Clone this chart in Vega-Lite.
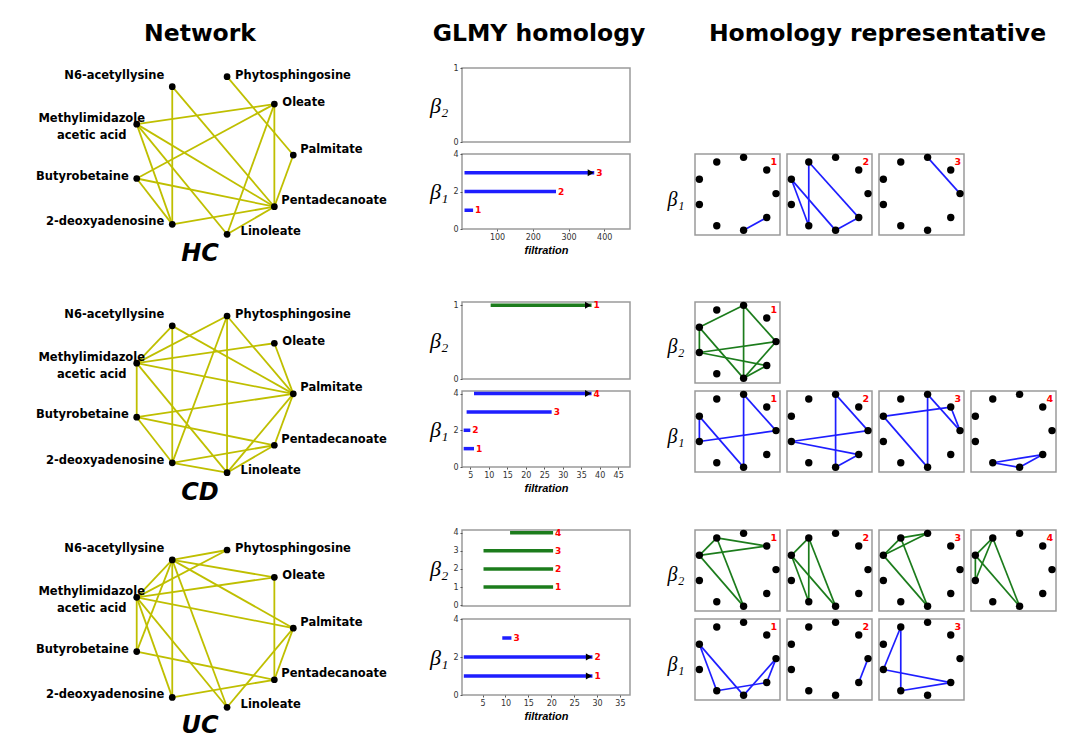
{
"$schema": "https://vega.github.io/schema/vega-lite/v6.json",
"padding": 0,
"background": "white",
"config": {
  "view": {"stroke": null},
  "axis": {"grid": false, "labelFont": "DejaVu Sans", "labelFontSize": 8, "labelColor": "#333", "tickSize": 2, "tickColor": "#555", "domainColor": "#666", "labelPadding": 2, "format": "d"},
  "title": {"font": "DejaVu Sans", "fontSize": 23.5, "fontWeight": "bold", "anchor": "middle", "frame": "group", "baseline": "alphabetic", "color": "black", "offset": -45}
},
"datasets": {
  "nodes": [
    {"id": "N6", "label": "N6-acetyllysine", "x": 0.227, "y": 0.937},
    {"id": "Phy", "label": "Phytosphingosine", "x": 0.577, "y": 1.0},
    {"id": "Ole", "label": "Oleate", "x": 0.879, "y": 0.826},
    {"id": "Pal", "label": "Palmitate", "x": 1.0, "y": 0.503},
    {"id": "Pen", "label": "Pentadecanoate", "x": 0.879, "y": 0.175},
    {"id": "Lin", "label": "Linoleate", "x": 0.577, "y": 0.0},
    {"id": "Deo", "label": "2-deoxyadenosine", "x": 0.227, "y": 0.063},
    {"id": "But", "label": "Butyrobetaine", "x": 0.0, "y": 0.354},
    {"id": "Met", "label": "Methylimidazole\nacetic acid", "x": 0.0, "y": 0.699}
  ],
  "edges": [
    {"g": "HCnet", "s": "N6", "t": "Deo"}, {"g": "HCnet", "s": "N6", "t": "Pen"}, {"g": "HCnet", "s": "Phy", "t": "Pal"},
    {"g": "HCnet", "s": "Ole", "t": "Met"}, {"g": "HCnet", "s": "Ole", "t": "But"}, {"g": "HCnet", "s": "Ole", "t": "Lin"},
    {"g": "HCnet", "s": "Ole", "t": "Pen"}, {"g": "HCnet", "s": "Pal", "t": "Pen"}, {"g": "HCnet", "s": "Met", "t": "Deo"},
    {"g": "HCnet", "s": "Met", "t": "Lin"}, {"g": "HCnet", "s": "Met", "t": "Pen"}, {"g": "HCnet", "s": "But", "t": "Deo"},
    {"g": "HCnet", "s": "But", "t": "Pen"}, {"g": "HCnet", "s": "Deo", "t": "Pen"}, {"g": "HCnet", "s": "Lin", "t": "Pen"},
    {"g": "CDnet", "s": "N6", "t": "Deo"}, {"g": "CDnet", "s": "N6", "t": "Pal"}, {"g": "CDnet", "s": "N6", "t": "Met"},
    {"g": "CDnet", "s": "Phy", "t": "Met"}, {"g": "CDnet", "s": "Phy", "t": "Deo"}, {"g": "CDnet", "s": "Phy", "t": "Lin"},
    {"g": "CDnet", "s": "Phy", "t": "Pal"}, {"g": "CDnet", "s": "Ole", "t": "Pal"}, {"g": "CDnet", "s": "Ole", "t": "Met"},
    {"g": "CDnet", "s": "Met", "t": "Pal"}, {"g": "CDnet", "s": "Met", "t": "But"}, {"g": "CDnet", "s": "Met", "t": "Lin"},
    {"g": "CDnet", "s": "But", "t": "Pal"}, {"g": "CDnet", "s": "But", "t": "Pen"}, {"g": "CDnet", "s": "But", "t": "Deo"},
    {"g": "CDnet", "s": "Deo", "t": "Pen"}, {"g": "CDnet", "s": "Deo", "t": "Lin"}, {"g": "CDnet", "s": "Lin", "t": "Pal"},
    {"g": "CDnet", "s": "Lin", "t": "Pen"}, {"g": "CDnet", "s": "Pen", "t": "Pal"},
    {"g": "UCnet", "s": "N6", "t": "Phy"}, {"g": "UCnet", "s": "N6", "t": "Ole"}, {"g": "UCnet", "s": "N6", "t": "Pal"},
    {"g": "UCnet", "s": "N6", "t": "Deo"}, {"g": "UCnet", "s": "N6", "t": "Lin"}, {"g": "UCnet", "s": "N6", "t": "Met"},
    {"g": "UCnet", "s": "N6", "t": "But"}, {"g": "UCnet", "s": "Met", "t": "Phy"}, {"g": "UCnet", "s": "Met", "t": "Ole"},
    {"g": "UCnet", "s": "Met", "t": "Pal"}, {"g": "UCnet", "s": "Met", "t": "But"}, {"g": "UCnet", "s": "Met", "t": "Deo"},
    {"g": "UCnet", "s": "Met", "t": "Lin"}, {"g": "UCnet", "s": "Ole", "t": "Pen"}, {"g": "UCnet", "s": "Pal", "t": "Pen"},
    {"g": "UCnet", "s": "Pal", "t": "Lin"}, {"g": "UCnet", "s": "But", "t": "Pen"}, {"g": "UCnet", "s": "Deo", "t": "Pen"},
    {"g": "HCb1_1", "s": "Lin", "t": "Pen"},
    {"g": "HCb1_2", "s": "N6", "t": "Deo"}, {"g": "HCb1_2", "s": "N6", "t": "Pen"}, {"g": "HCb1_2", "s": "Met", "t": "Deo"},
    {"g": "HCb1_2", "s": "Met", "t": "Lin"}, {"g": "HCb1_2", "s": "Lin", "t": "Pen"},
    {"g": "HCb1_3", "s": "Phy", "t": "Pal"},
    {"g": "CDb2_1", "s": "Phy", "t": "Met"}, {"g": "CDb2_1", "s": "Phy", "t": "Lin"}, {"g": "CDb2_1", "s": "Phy", "t": "Pal"},
    {"g": "CDb2_1", "s": "Met", "t": "But"}, {"g": "CDb2_1", "s": "Met", "t": "Lin"}, {"g": "CDb2_1", "s": "But", "t": "Pal"},
    {"g": "CDb2_1", "s": "But", "t": "Pen"}, {"g": "CDb2_1", "s": "Lin", "t": "Pen"}, {"g": "CDb2_1", "s": "Lin", "t": "Pal"},
    {"g": "CDb1_1", "s": "Phy", "t": "Lin"}, {"g": "CDb1_1", "s": "Phy", "t": "Pal"}, {"g": "CDb1_1", "s": "Met", "t": "But"},
    {"g": "CDb1_1", "s": "Met", "t": "Lin"}, {"g": "CDb1_1", "s": "But", "t": "Pal"},
    {"g": "CDb1_2", "s": "Phy", "t": "Lin"}, {"g": "CDb1_2", "s": "Phy", "t": "Pal"}, {"g": "CDb1_2", "s": "But", "t": "Pal"},
    {"g": "CDb1_2", "s": "But", "t": "Pen"}, {"g": "CDb1_2", "s": "Lin", "t": "Pen"},
    {"g": "CDb1_3", "s": "Met", "t": "Ole"}, {"g": "CDb1_3", "s": "Phy", "t": "Lin"}, {"g": "CDb1_3", "s": "Phy", "t": "Pal"},
    {"g": "CDb1_3", "s": "Ole", "t": "Pal"}, {"g": "CDb1_3", "s": "Met", "t": "Lin"},
    {"g": "CDb1_4", "s": "Deo", "t": "Pen"}, {"g": "CDb1_4", "s": "Deo", "t": "Lin"}, {"g": "CDb1_4", "s": "Lin", "t": "Pen"},
    {"g": "UCb2_1", "s": "N6", "t": "Ole"}, {"g": "UCb2_1", "s": "Met", "t": "Ole"}, {"g": "UCb2_1", "s": "N6", "t": "Met"},
    {"g": "UCb2_1", "s": "N6", "t": "Lin"}, {"g": "UCb2_1", "s": "Met", "t": "Lin"},
    {"g": "UCb2_2", "s": "N6", "t": "Met"}, {"g": "UCb2_2", "s": "N6", "t": "Deo"}, {"g": "UCb2_2", "s": "N6", "t": "Lin"},
    {"g": "UCb2_2", "s": "Met", "t": "Lin"}, {"g": "UCb2_2", "s": "Met", "t": "Deo"},
    {"g": "UCb2_3", "s": "N6", "t": "Phy"}, {"g": "UCb2_3", "s": "Met", "t": "Phy"}, {"g": "UCb2_3", "s": "N6", "t": "Met"},
    {"g": "UCb2_3", "s": "N6", "t": "Lin"}, {"g": "UCb2_3", "s": "Met", "t": "Lin"},
    {"g": "UCb2_4", "s": "N6", "t": "Met"}, {"g": "UCb2_4", "s": "N6", "t": "But"}, {"g": "UCb2_4", "s": "Met", "t": "But"},
    {"g": "UCb2_4", "s": "N6", "t": "Lin"}, {"g": "UCb2_4", "s": "Met", "t": "Lin"},
    {"g": "UCb1_1", "s": "Met", "t": "Deo"}, {"g": "UCb1_1", "s": "Met", "t": "Lin"}, {"g": "UCb1_1", "s": "Deo", "t": "Pen"},
    {"g": "UCb1_1", "s": "Lin", "t": "Pal"}, {"g": "UCb1_1", "s": "Pal", "t": "Pen"},
    {"g": "UCb1_2", "s": "Pen", "t": "Pal"},
    {"g": "UCb1_3", "s": "N6", "t": "But"}, {"g": "UCb1_3", "s": "N6", "t": "Deo"}, {"g": "UCb1_3", "s": "But", "t": "Pen"},
    {"g": "UCb1_3", "s": "Deo", "t": "Pen"}
  ],
  "bars": [
    {"g": "HC", "dim": 1, "idx": 1, "birth": 9, "death": 33, "inf": false},
    {"g": "HC", "dim": 1, "idx": 2, "birth": 9, "death": 265, "inf": false},
    {"g": "HC", "dim": 1, "idx": 3, "birth": 9, "death": 372, "inf": true},
    {"g": "CD", "dim": 2, "idx": 1, "birth": 10.5, "death": 37.8, "inf": true},
    {"g": "CD", "dim": 1, "idx": 1, "birth": 3.2, "death": 6.0, "inf": false},
    {"g": "CD", "dim": 1, "idx": 2, "birth": 3.2, "death": 5.0, "inf": false},
    {"g": "CD", "dim": 1, "idx": 3, "birth": 4.0, "death": 27.0, "inf": false},
    {"g": "CD", "dim": 1, "idx": 4, "birth": 6.0, "death": 37.8, "inf": true},
    {"g": "UC", "dim": 2, "idx": 1, "birth": 5.2, "death": 20.4, "inf": false},
    {"g": "UC", "dim": 2, "idx": 2, "birth": 5.2, "death": 20.4, "inf": false},
    {"g": "UC", "dim": 2, "idx": 3, "birth": 5.2, "death": 20.4, "inf": false},
    {"g": "UC", "dim": 2, "idx": 4, "birth": 11.0, "death": 20.4, "inf": false},
    {"g": "UC", "dim": 1, "idx": 1, "birth": 0.9, "death": 29.0, "inf": true},
    {"g": "UC", "dim": 1, "idx": 2, "birth": 0.9, "death": 29.0, "inf": true},
    {"g": "UC", "dim": 1, "idx": 3, "birth": 9.3, "death": 11.3, "inf": false}
  ]
},
"data": {"name": "edges"},
"transform": [
  {"lookup": "s", "from": {"data": {"name": "nodes"}, "key": "id", "fields": ["x", "y"]}, "as": ["x", "y"]},
  {"lookup": "t", "from": {"data": {"name": "nodes"}, "key": "id", "fields": ["x", "y"]}, "as": ["xe", "ye"]}
],
"columns": 7,
"align": "none",
"bounds": "flush",
"spacing": {"row": 0, "column": 7},
"concat": [
  {"width": 455, "height": 68, "data": {"values": []}, "mark": "text", "title": {"text": "Network", "dx": -27.5}},
  {"width": 168, "height": 68, "data": {"values": []}, "mark": "text", "title": {"text": "GLMY homology", "dx": -7}},
  {"width": 51, "height": 0, "data": {"values": []}, "mark": "text"},
  {"width": 85, "height": 68, "data": {"values": []}, "mark": "text", "title": {"text": "Homology representative", "dx": 140}},
  {"width": 85, "height": 0, "data": {"values": []}, "mark": "text"},
  {"width": 85, "height": 0, "data": {"values": []}, "mark": "text"},
  {"width": 85, "height": 0, "data": {"values": []}, "mark": "text"},

  {
    "width": 455, "height": 86,
    "title": {"text": "HC", "fontSize": 24, "fontStyle": "italic", "offset": -197.7, "dx": -27.5},
    "encoding": {
      "x": {"field": "x", "type": "quantitative", "scale": {"domain": [-0.873, 2.0326], "nice": false, "zero": false}, "axis": null},
      "y": {"field": "y", "type": "quantitative", "scale": {"domain": [0.5095, 1.0552], "nice": false, "zero": false}, "axis": null}
    },
    "layer": [
      {"transform": [{"filter": "datum.g == 'HCnet'"}], "mark": {"type": "rule", "color": "#bfbf00", "strokeWidth": 1.8}, "encoding": {"x2": {"field": "xe"}, "y2": {"field": "ye"}}},
      {"data": {"name": "nodes"}, "mark": {"type": "circle", "color": "black", "size": 45, "opacity": 1}},
      {"data": {"name": "nodes"}, "transform": [{"filter": "datum.id == 'N6'"}], "mark": {"type": "text", "font": "DejaVu Sans", "fontWeight": "bold", "fontSize": 11.5, "align": "right", "baseline": "middle", "dx": -8, "dy": -11}, "encoding": {"text": {"field": "label"}}},
      {"data": {"name": "nodes"}, "transform": [{"filter": "datum.id == 'Deo' || datum.id == 'But'"}], "mark": {"type": "text", "font": "DejaVu Sans", "fontWeight": "bold", "fontSize": 11.5, "align": "right", "baseline": "middle", "dx": -8, "dy": -2}, "encoding": {"text": {"field": "label"}}},
      {"data": {"name": "nodes"}, "transform": [{"filter": "datum.id == 'Phy' || datum.id == 'Ole'"}], "mark": {"type": "text", "font": "DejaVu Sans", "fontWeight": "bold", "fontSize": 11.5, "align": "left", "baseline": "middle", "dx": 8, "dy": -1}, "encoding": {"text": {"field": "label"}}},
      {"data": {"name": "nodes"}, "transform": [{"filter": "datum.id == 'Pal' || datum.id == 'Pen'"}], "mark": {"type": "text", "font": "DejaVu Sans", "fontWeight": "bold", "fontSize": 11.5, "align": "left", "baseline": "middle", "dx": 7, "dy": -5.5}, "encoding": {"text": {"field": "label"}}},
      {"data": {"name": "nodes"}, "transform": [{"filter": "datum.id == 'Lin'"}], "mark": {"type": "text", "font": "DejaVu Sans", "fontWeight": "bold", "fontSize": 11.5, "align": "left", "baseline": "middle", "dx": 13.5, "dy": -2}, "encoding": {"text": {"field": "label"}}},
      {"data": {"name": "nodes"}, "transform": [{"filter": "datum.id == 'Met'"}], "mark": {"type": "text", "font": "DejaVu Sans", "fontWeight": "bold", "fontSize": 11.5, "align": "center", "baseline": "middle", "dx": -45, "dy": -5, "lineBreak": "\n", "lineHeight": 16.5}, "encoding": {"text": {"field": "label"}}}
    ]
  },
  {
    "width": 168, "height": 74, "view": {"stroke": "#9a9a9a", "strokeWidth": 1.5},
    "data": {"name": "bars"}, "transform": [{"filter": "datum.g == 'HC' && datum.dim == 2"}],
    "encoding": {
      "x": {"field": "birth", "type": "quantitative", "scale": {"domain": [2, 472], "nice": false, "zero": false}, "axis": null},
      "y": {"field": "idx", "type": "quantitative", "scale": {"domain": [0, 1], "nice": false, "zero": false}, "axis": {"values": [0, 1], "domain": false, "title": "β₂", "titleAngle": 0, "titleAlign": "right", "titleBaseline": "middle", "titleX": -14, "titleY": 37, "titleFont": "Liberation Serif", "titleFontSize": 22, "titleFontStyle": "italic", "titleFontWeight": "normal", "titleColor": "black"}}
    },
    "layer": [
      {"mark": {"type": "rule", "color": "#1c7c1c", "strokeWidth": 3.5}, "encoding": {"x2": {"field": "death"}}},
      {"transform": [{"filter": "datum.inf"}], "mark": {"type": "point", "shape": "triangle-right", "filled": true, "color": "black", "opacity": 1, "size": 50, "xOffset": -3.5}, "encoding": {"x": {"field": "death", "type": "quantitative", "axis": null}}},
      {"mark": {"type": "text", "color": "#ff0000", "font": "DejaVu Sans", "fontWeight": "bold", "fontSize": 9, "align": "left", "baseline": "middle", "dx": 2}, "encoding": {"x": {"field": "death", "type": "quantitative", "axis": null}, "text": {"field": "idx"}}}
    ]
  },
  {"width": 51, "height": 0, "data": {"values": []}, "mark": "text"},
  {"width": 85, "height": 0, "data": {"values": []}, "mark": "text"},
  {"width": 85, "height": 0, "data": {"values": []}, "mark": "text"},
  {"width": 85, "height": 0, "data": {"values": []}, "mark": "text"},
  {"width": 85, "height": 0, "data": {"values": []}, "mark": "text"},

  {"width": 455, "height": 148, "data": {"values": []}, "mark": "text"},
  {
    "width": 168, "height": 75, "view": {"stroke": "#9a9a9a", "strokeWidth": 1.5},
    "data": {"name": "bars"}, "transform": [{"filter": "datum.g == 'HC' && datum.dim == 1"}],
    "encoding": {
      "x": {"field": "birth", "type": "quantitative", "scale": {"domain": [2, 472], "nice": false, "zero": false}, "axis": {"values": [100, 200, 300, 400], "domain": false, "title": "filtration", "titleFont": "Liberation Sans", "titleFontSize": 11, "titleFontStyle": "italic", "titleFontWeight": "bold", "titleColor": "black", "titlePadding": 3}},
      "y": {"field": "idx", "type": "quantitative", "scale": {"domain": [0, 4], "nice": false, "zero": false}, "axis": {"values": [0, 2, 4], "domain": false, "title": "β₁", "titleAngle": 0, "titleAlign": "right", "titleBaseline": "middle", "titleX": -14, "titleY": 37, "titleFont": "Liberation Serif", "titleFontSize": 22, "titleFontStyle": "italic", "titleFontWeight": "normal", "titleColor": "black"}}
    },
    "layer": [
      {"mark": {"type": "rule", "color": "#1e1eff", "strokeWidth": 3.5}, "encoding": {"x2": {"field": "death"}}},
      {"transform": [{"filter": "datum.inf"}], "mark": {"type": "point", "shape": "triangle-right", "filled": true, "color": "black", "opacity": 1, "size": 50, "xOffset": -3.5}, "encoding": {"x": {"field": "death", "type": "quantitative", "axis": {"values": [100, 200, 300, 400], "domain": false, "title": "filtration", "titleFont": "Liberation Sans", "titleFontSize": 11, "titleFontStyle": "italic", "titleFontWeight": "bold", "titleColor": "black", "titlePadding": 3}}}},
      {"mark": {"type": "text", "color": "#ff0000", "font": "DejaVu Sans", "fontWeight": "bold", "fontSize": 9, "align": "left", "baseline": "middle", "dx": 2}, "encoding": {"x": {"field": "death", "type": "quantitative", "axis": {"values": [100, 200, 300, 400], "domain": false, "title": "filtration", "titleFont": "Liberation Sans", "titleFontSize": 11, "titleFontStyle": "italic", "titleFontWeight": "bold", "titleColor": "black", "titlePadding": 3}}, "text": {"field": "idx"}}}
    ]
  },
  {"width": 51, "height": 0, "data": {"values": []}, "mark": "text"},
  {"width": 85, "height": 81, "view": {"stroke": "#9a9a9a", "strokeWidth": 1.5},
   "title": {"text": "1", "color": "#ff0000", "fontSize": 9.5, "anchor": "end", "offset": -12.5, "dx": -3},
   "encoding": {"x": {"field": "x", "type": "quantitative", "scale": {"domain": [-0.057, 1.052], "nice": false, "zero": false}, "axis": null}, "y": {"field": "y", "type": "quantitative", "scale": {"domain": [-0.064, 1.046], "nice": false, "zero": false}, "axis": {"title": "β₁", "domain": false, "ticks": false, "labels": false, "grid": false, "titleAngle": 0, "titleAlign": "right", "titleBaseline": "middle", "titleX": -11, "titleY": 45, "titleFont": "Liberation Serif", "titleFontSize": 20, "titleFontStyle": "italic", "titleFontWeight": "normal", "titleColor": "black"}}},
   "layer": [
     {"transform": [{"filter": "datum.g == 'HCb1_1'"}], "mark": {"type": "rule", "color": "#1e1eff", "strokeWidth": 1.7}, "encoding": {"x2": {"field": "xe"}, "y2": {"field": "ye"}}},
     {"data": {"name": "nodes"}, "mark": {"type": "circle", "color": "black", "size": 55, "opacity": 1}}
   ]},
  {"width": 85, "height": 81, "view": {"stroke": "#9a9a9a", "strokeWidth": 1.5},
   "title": {"text": "2", "color": "#ff0000", "fontSize": 9.5, "anchor": "end", "offset": -12.5, "dx": -3},
   "encoding": {"x": {"field": "x", "type": "quantitative", "scale": {"domain": [-0.057, 1.052], "nice": false, "zero": false}, "axis": null}, "y": {"field": "y", "type": "quantitative", "scale": {"domain": [-0.064, 1.046], "nice": false, "zero": false}, "axis": null}},
   "layer": [
     {"transform": [{"filter": "datum.g == 'HCb1_2'"}], "mark": {"type": "rule", "color": "#1e1eff", "strokeWidth": 1.7}, "encoding": {"x2": {"field": "xe"}, "y2": {"field": "ye"}}},
     {"data": {"name": "nodes"}, "mark": {"type": "circle", "color": "black", "size": 55, "opacity": 1}}
   ]},
  {"width": 85, "height": 81, "view": {"stroke": "#9a9a9a", "strokeWidth": 1.5},
   "title": {"text": "3", "color": "#ff0000", "fontSize": 9.5, "anchor": "end", "offset": -12.5, "dx": -3},
   "encoding": {"x": {"field": "x", "type": "quantitative", "scale": {"domain": [-0.057, 1.052], "nice": false, "zero": false}, "axis": null}, "y": {"field": "y", "type": "quantitative", "scale": {"domain": [-0.064, 1.046], "nice": false, "zero": false}, "axis": null}},
   "layer": [
     {"transform": [{"filter": "datum.g == 'HCb1_3'"}], "mark": {"type": "rule", "color": "#1e1eff", "strokeWidth": 1.7}, "encoding": {"x2": {"field": "xe"}, "y2": {"field": "ye"}}},
     {"data": {"name": "nodes"}, "mark": {"type": "circle", "color": "black", "size": 55, "opacity": 1}}
   ]},
  {"width": 85, "height": 0, "data": {"values": []}, "mark": "text"},

  {
    "width": 455, "height": 89,
    "title": {"text": "CD", "fontSize": 24, "fontStyle": "italic", "offset": -202.7, "dx": -27.5},
    "encoding": {
      "x": {"field": "x", "type": "quantitative", "scale": {"domain": [-0.873, 2.0326], "nice": false, "zero": false}, "axis": null},
      "y": {"field": "y", "type": "quantitative", "scale": {"domain": [0.5213, 1.0893], "nice": false, "zero": false}, "axis": null}
    },
    "layer": [
      {"transform": [{"filter": "datum.g == 'CDnet'"}], "mark": {"type": "rule", "color": "#bfbf00", "strokeWidth": 1.8}, "encoding": {"x2": {"field": "xe"}, "y2": {"field": "ye"}}},
      {"data": {"name": "nodes"}, "mark": {"type": "circle", "color": "black", "size": 45, "opacity": 1}},
      {"data": {"name": "nodes"}, "transform": [{"filter": "datum.id == 'N6'"}], "mark": {"type": "text", "font": "DejaVu Sans", "fontWeight": "bold", "fontSize": 11.5, "align": "right", "baseline": "middle", "dx": -8, "dy": -11}, "encoding": {"text": {"field": "label"}}},
      {"data": {"name": "nodes"}, "transform": [{"filter": "datum.id == 'Deo' || datum.id == 'But'"}], "mark": {"type": "text", "font": "DejaVu Sans", "fontWeight": "bold", "fontSize": 11.5, "align": "right", "baseline": "middle", "dx": -8, "dy": -2}, "encoding": {"text": {"field": "label"}}},
      {"data": {"name": "nodes"}, "transform": [{"filter": "datum.id == 'Phy' || datum.id == 'Ole'"}], "mark": {"type": "text", "font": "DejaVu Sans", "fontWeight": "bold", "fontSize": 11.5, "align": "left", "baseline": "middle", "dx": 8, "dy": -1}, "encoding": {"text": {"field": "label"}}},
      {"data": {"name": "nodes"}, "transform": [{"filter": "datum.id == 'Pal' || datum.id == 'Pen'"}], "mark": {"type": "text", "font": "DejaVu Sans", "fontWeight": "bold", "fontSize": 11.5, "align": "left", "baseline": "middle", "dx": 7, "dy": -5.5}, "encoding": {"text": {"field": "label"}}},
      {"data": {"name": "nodes"}, "transform": [{"filter": "datum.id == 'Lin'"}], "mark": {"type": "text", "font": "DejaVu Sans", "fontWeight": "bold", "fontSize": 11.5, "align": "left", "baseline": "middle", "dx": 13.5, "dy": -2}, "encoding": {"text": {"field": "label"}}},
      {"data": {"name": "nodes"}, "transform": [{"filter": "datum.id == 'Met'"}], "mark": {"type": "text", "font": "DejaVu Sans", "fontWeight": "bold", "fontSize": 11.5, "align": "center", "baseline": "middle", "dx": -45, "dy": -5, "lineBreak": "\n", "lineHeight": 16.5}, "encoding": {"text": {"field": "label"}}}
    ]
  },
  {
    "width": 168, "height": 77, "view": {"stroke": "#9a9a9a", "strokeWidth": 1.5},
    "data": {"name": "bars"}, "transform": [{"filter": "datum.g == 'CD' && datum.dim == 2"}],
    "encoding": {
      "x": {"field": "birth", "type": "quantitative", "scale": {"domain": [2.75, 48.2], "nice": false, "zero": false}, "axis": null},
      "y": {"field": "idx", "type": "quantitative", "scale": {"domain": [0, 1.045], "nice": false, "zero": false}, "axis": {"values": [0, 1], "domain": false, "title": "β₂", "titleAngle": 0, "titleAlign": "right", "titleBaseline": "middle", "titleX": -14, "titleY": 38, "titleFont": "Liberation Serif", "titleFontSize": 22, "titleFontStyle": "italic", "titleFontWeight": "normal", "titleColor": "black"}}
    },
    "layer": [
      {"mark": {"type": "rule", "color": "#1c7c1c", "strokeWidth": 3.5}, "encoding": {"x2": {"field": "death"}}},
      {"transform": [{"filter": "datum.inf"}], "mark": {"type": "point", "shape": "triangle-right", "filled": true, "color": "black", "opacity": 1, "size": 50, "xOffset": -3.5}, "encoding": {"x": {"field": "death", "type": "quantitative", "axis": null}}},
      {"mark": {"type": "text", "color": "#ff0000", "font": "DejaVu Sans", "fontWeight": "bold", "fontSize": 9, "align": "left", "baseline": "middle", "dx": 2}, "encoding": {"x": {"field": "death", "type": "quantitative", "axis": null}, "text": {"field": "idx"}}}
    ]
  },
  {"width": 51, "height": 0, "data": {"values": []}, "mark": "text"},
  {"width": 85, "height": 81, "view": {"stroke": "#9a9a9a", "strokeWidth": 1.5},
   "title": {"text": "1", "color": "#ff0000", "fontSize": 9.5, "anchor": "end", "offset": -12.5, "dx": -3},
   "encoding": {"x": {"field": "x", "type": "quantitative", "scale": {"domain": [-0.057, 1.052], "nice": false, "zero": false}, "axis": null}, "y": {"field": "y", "type": "quantitative", "scale": {"domain": [-0.064, 1.046], "nice": false, "zero": false}, "axis": {"title": "β₂", "domain": false, "ticks": false, "labels": false, "grid": false, "titleAngle": 0, "titleAlign": "right", "titleBaseline": "middle", "titleX": -11, "titleY": 44, "titleFont": "Liberation Serif", "titleFontSize": 20, "titleFontStyle": "italic", "titleFontWeight": "normal", "titleColor": "black"}}},
   "layer": [
     {"transform": [{"filter": "datum.g == 'CDb2_1'"}], "mark": {"type": "rule", "color": "#1c7c1c", "strokeWidth": 1.7}, "encoding": {"x2": {"field": "xe"}, "y2": {"field": "ye"}}},
     {"data": {"name": "nodes"}, "mark": {"type": "circle", "color": "black", "size": 55, "opacity": 1}}
   ]},
  {"width": 85, "height": 0, "data": {"values": []}, "mark": "text"},
  {"width": 85, "height": 0, "data": {"values": []}, "mark": "text"},
  {"width": 85, "height": 0, "data": {"values": []}, "mark": "text"},

  {"width": 455, "height": 139, "data": {"values": []}, "mark": "text"},
  {
    "width": 168, "height": 76, "view": {"stroke": "#9a9a9a", "strokeWidth": 1.5},
    "data": {"name": "bars"}, "transform": [{"filter": "datum.g == 'CD' && datum.dim == 1"}],
    "encoding": {
      "x": {"field": "birth", "type": "quantitative", "scale": {"domain": [2.75, 48.2], "nice": false, "zero": false}, "axis": {"values": [5, 10, 15, 20, 25, 30, 35, 40, 45], "domain": false, "title": "filtration", "titleFont": "Liberation Sans", "titleFontSize": 11, "titleFontStyle": "italic", "titleFontWeight": "bold", "titleColor": "black", "titlePadding": 3}},
      "y": {"field": "idx", "type": "quantitative", "scale": {"domain": [0, 4.14], "nice": false, "zero": false}, "axis": {"values": [0, 2, 4], "domain": false, "title": "β₁", "titleAngle": 0, "titleAlign": "right", "titleBaseline": "middle", "titleX": -14, "titleY": 38, "titleFont": "Liberation Serif", "titleFontSize": 22, "titleFontStyle": "italic", "titleFontWeight": "normal", "titleColor": "black"}}
    },
    "layer": [
      {"mark": {"type": "rule", "color": "#1e1eff", "strokeWidth": 3.5}, "encoding": {"x2": {"field": "death"}}},
      {"transform": [{"filter": "datum.inf"}], "mark": {"type": "point", "shape": "triangle-right", "filled": true, "color": "black", "opacity": 1, "size": 50, "xOffset": -3.5}, "encoding": {"x": {"field": "death", "type": "quantitative", "axis": {"values": [5, 10, 15, 20, 25, 30, 35, 40, 45], "domain": false, "title": "filtration", "titleFont": "Liberation Sans", "titleFontSize": 11, "titleFontStyle": "italic", "titleFontWeight": "bold", "titleColor": "black", "titlePadding": 3}}}},
      {"mark": {"type": "text", "color": "#ff0000", "font": "DejaVu Sans", "fontWeight": "bold", "fontSize": 9, "align": "left", "baseline": "middle", "dx": 2}, "encoding": {"x": {"field": "death", "type": "quantitative", "axis": {"values": [5, 10, 15, 20, 25, 30, 35, 40, 45], "domain": false, "title": "filtration", "titleFont": "Liberation Sans", "titleFontSize": 11, "titleFontStyle": "italic", "titleFontWeight": "bold", "titleColor": "black", "titlePadding": 3}}, "text": {"field": "idx"}}}
    ]
  },
  {"width": 51, "height": 0, "data": {"values": []}, "mark": "text"},
  {"width": 85, "height": 81, "view": {"stroke": "#9a9a9a", "strokeWidth": 1.5},
   "title": {"text": "1", "color": "#ff0000", "fontSize": 9.5, "anchor": "end", "offset": -12.5, "dx": -3},
   "encoding": {"x": {"field": "x", "type": "quantitative", "scale": {"domain": [-0.057, 1.052], "nice": false, "zero": false}, "axis": null}, "y": {"field": "y", "type": "quantitative", "scale": {"domain": [-0.064, 1.046], "nice": false, "zero": false}, "axis": {"title": "β₁", "domain": false, "ticks": false, "labels": false, "grid": false, "titleAngle": 0, "titleAlign": "right", "titleBaseline": "middle", "titleX": -11, "titleY": 45, "titleFont": "Liberation Serif", "titleFontSize": 20, "titleFontStyle": "italic", "titleFontWeight": "normal", "titleColor": "black"}}},
   "layer": [
     {"transform": [{"filter": "datum.g == 'CDb1_1'"}], "mark": {"type": "rule", "color": "#1e1eff", "strokeWidth": 1.7}, "encoding": {"x2": {"field": "xe"}, "y2": {"field": "ye"}}},
     {"data": {"name": "nodes"}, "mark": {"type": "circle", "color": "black", "size": 55, "opacity": 1}}
   ]},
  {"width": 85, "height": 81, "view": {"stroke": "#9a9a9a", "strokeWidth": 1.5},
   "title": {"text": "2", "color": "#ff0000", "fontSize": 9.5, "anchor": "end", "offset": -12.5, "dx": -3},
   "encoding": {"x": {"field": "x", "type": "quantitative", "scale": {"domain": [-0.057, 1.052], "nice": false, "zero": false}, "axis": null}, "y": {"field": "y", "type": "quantitative", "scale": {"domain": [-0.064, 1.046], "nice": false, "zero": false}, "axis": null}},
   "layer": [
     {"transform": [{"filter": "datum.g == 'CDb1_2'"}], "mark": {"type": "rule", "color": "#1e1eff", "strokeWidth": 1.7}, "encoding": {"x2": {"field": "xe"}, "y2": {"field": "ye"}}},
     {"data": {"name": "nodes"}, "mark": {"type": "circle", "color": "black", "size": 55, "opacity": 1}}
   ]},
  {"width": 85, "height": 81, "view": {"stroke": "#9a9a9a", "strokeWidth": 1.5},
   "title": {"text": "3", "color": "#ff0000", "fontSize": 9.5, "anchor": "end", "offset": -12.5, "dx": -3},
   "encoding": {"x": {"field": "x", "type": "quantitative", "scale": {"domain": [-0.057, 1.052], "nice": false, "zero": false}, "axis": null}, "y": {"field": "y", "type": "quantitative", "scale": {"domain": [-0.064, 1.046], "nice": false, "zero": false}, "axis": null}},
   "layer": [
     {"transform": [{"filter": "datum.g == 'CDb1_3'"}], "mark": {"type": "rule", "color": "#1e1eff", "strokeWidth": 1.7}, "encoding": {"x2": {"field": "xe"}, "y2": {"field": "ye"}}},
     {"data": {"name": "nodes"}, "mark": {"type": "circle", "color": "black", "size": 55, "opacity": 1}}
   ]},
  {"width": 85, "height": 81, "view": {"stroke": "#9a9a9a", "strokeWidth": 1.5},
   "title": {"text": "4", "color": "#ff0000", "fontSize": 9.5, "anchor": "end", "offset": -12.5, "dx": -3},
   "encoding": {"x": {"field": "x", "type": "quantitative", "scale": {"domain": [-0.057, 1.052], "nice": false, "zero": false}, "axis": null}, "y": {"field": "y", "type": "quantitative", "scale": {"domain": [-0.064, 1.046], "nice": false, "zero": false}, "axis": null}},
   "layer": [
     {"transform": [{"filter": "datum.g == 'CDb1_4'"}], "mark": {"type": "rule", "color": "#1e1eff", "strokeWidth": 1.7}, "encoding": {"x2": {"field": "xe"}, "y2": {"field": "ye"}}},
     {"data": {"name": "nodes"}, "mark": {"type": "circle", "color": "black", "size": 55, "opacity": 1}}
   ]},

  {
    "width": 455, "height": 89,
    "title": {"text": "UC", "fontSize": 24, "fontStyle": "italic", "offset": -207.7, "dx": -27.5},
    "encoding": {
      "x": {"field": "x", "type": "quantitative", "scale": {"domain": [-0.873, 2.0326], "nice": false, "zero": false}, "axis": null},
      "y": {"field": "y", "type": "quantitative", "scale": {"domain": [0.5613, 1.1271], "nice": false, "zero": false}, "axis": null}
    },
    "layer": [
      {"transform": [{"filter": "datum.g == 'UCnet'"}], "mark": {"type": "rule", "color": "#bfbf00", "strokeWidth": 1.8}, "encoding": {"x2": {"field": "xe"}, "y2": {"field": "ye"}}},
      {"data": {"name": "nodes"}, "mark": {"type": "circle", "color": "black", "size": 45, "opacity": 1}},
      {"data": {"name": "nodes"}, "transform": [{"filter": "datum.id == 'N6'"}], "mark": {"type": "text", "font": "DejaVu Sans", "fontWeight": "bold", "fontSize": 11.5, "align": "right", "baseline": "middle", "dx": -8, "dy": -11}, "encoding": {"text": {"field": "label"}}},
      {"data": {"name": "nodes"}, "transform": [{"filter": "datum.id == 'Deo' || datum.id == 'But'"}], "mark": {"type": "text", "font": "DejaVu Sans", "fontWeight": "bold", "fontSize": 11.5, "align": "right", "baseline": "middle", "dx": -8, "dy": -2}, "encoding": {"text": {"field": "label"}}},
      {"data": {"name": "nodes"}, "transform": [{"filter": "datum.id == 'Phy' || datum.id == 'Ole'"}], "mark": {"type": "text", "font": "DejaVu Sans", "fontWeight": "bold", "fontSize": 11.5, "align": "left", "baseline": "middle", "dx": 8, "dy": -1}, "encoding": {"text": {"field": "label"}}},
      {"data": {"name": "nodes"}, "transform": [{"filter": "datum.id == 'Pal' || datum.id == 'Pen'"}], "mark": {"type": "text", "font": "DejaVu Sans", "fontWeight": "bold", "fontSize": 11.5, "align": "left", "baseline": "middle", "dx": 7, "dy": -5.5}, "encoding": {"text": {"field": "label"}}},
      {"data": {"name": "nodes"}, "transform": [{"filter": "datum.id == 'Lin'"}], "mark": {"type": "text", "font": "DejaVu Sans", "fontWeight": "bold", "fontSize": 11.5, "align": "left", "baseline": "middle", "dx": 13.5, "dy": -2}, "encoding": {"text": {"field": "label"}}},
      {"data": {"name": "nodes"}, "transform": [{"filter": "datum.id == 'Met'"}], "mark": {"type": "text", "font": "DejaVu Sans", "fontWeight": "bold", "fontSize": 11.5, "align": "center", "baseline": "middle", "dx": -45, "dy": -5, "lineBreak": "\n", "lineHeight": 16.5}, "encoding": {"text": {"field": "label"}}}
    ]
  },
  {
    "width": 168, "height": 76, "view": {"stroke": "#9a9a9a", "strokeWidth": 1.5},
    "data": {"name": "bars"}, "transform": [{"filter": "datum.g == 'UC' && datum.dim == 2"}],
    "encoding": {
      "x": {"field": "birth", "type": "quantitative", "scale": {"domain": [0.5, 37.2], "nice": false, "zero": false}, "axis": null},
      "y": {"field": "idx", "type": "quantitative", "scale": {"domain": [-0.05, 4.15], "nice": false, "zero": false}, "axis": {"values": [0, 1, 2, 3, 4], "domain": false, "title": "β₂", "titleAngle": 0, "titleAlign": "right", "titleBaseline": "middle", "titleX": -14, "titleY": 38, "titleFont": "Liberation Serif", "titleFontSize": 22, "titleFontStyle": "italic", "titleFontWeight": "normal", "titleColor": "black"}}
    },
    "layer": [
      {"mark": {"type": "rule", "color": "#1c7c1c", "strokeWidth": 3.5}, "encoding": {"x2": {"field": "death"}}},
      {"transform": [{"filter": "datum.inf"}], "mark": {"type": "point", "shape": "triangle-right", "filled": true, "color": "black", "opacity": 1, "size": 50, "xOffset": -3.5}, "encoding": {"x": {"field": "death", "type": "quantitative", "axis": null}}},
      {"mark": {"type": "text", "color": "#ff0000", "font": "DejaVu Sans", "fontWeight": "bold", "fontSize": 9, "align": "left", "baseline": "middle", "dx": 2}, "encoding": {"x": {"field": "death", "type": "quantitative", "axis": null}, "text": {"field": "idx"}}}
    ]
  },
  {"width": 51, "height": 0, "data": {"values": []}, "mark": "text"},
  {"width": 85, "height": 81, "view": {"stroke": "#9a9a9a", "strokeWidth": 1.5},
   "title": {"text": "1", "color": "#ff0000", "fontSize": 9.5, "anchor": "end", "offset": -12.5, "dx": -3},
   "encoding": {"x": {"field": "x", "type": "quantitative", "scale": {"domain": [-0.057, 1.052], "nice": false, "zero": false}, "axis": null}, "y": {"field": "y", "type": "quantitative", "scale": {"domain": [-0.064, 1.046], "nice": false, "zero": false}, "axis": {"title": "β₂", "domain": false, "ticks": false, "labels": false, "grid": false, "titleAngle": 0, "titleAlign": "right", "titleBaseline": "middle", "titleX": -11, "titleY": 44, "titleFont": "Liberation Serif", "titleFontSize": 20, "titleFontStyle": "italic", "titleFontWeight": "normal", "titleColor": "black"}}},
   "layer": [
     {"transform": [{"filter": "datum.g == 'UCb2_1'"}], "mark": {"type": "rule", "color": "#1c7c1c", "strokeWidth": 1.7}, "encoding": {"x2": {"field": "xe"}, "y2": {"field": "ye"}}},
     {"data": {"name": "nodes"}, "mark": {"type": "circle", "color": "black", "size": 55, "opacity": 1}}
   ]},
  {"width": 85, "height": 81, "view": {"stroke": "#9a9a9a", "strokeWidth": 1.5},
   "title": {"text": "2", "color": "#ff0000", "fontSize": 9.5, "anchor": "end", "offset": -12.5, "dx": -3},
   "encoding": {"x": {"field": "x", "type": "quantitative", "scale": {"domain": [-0.057, 1.052], "nice": false, "zero": false}, "axis": null}, "y": {"field": "y", "type": "quantitative", "scale": {"domain": [-0.064, 1.046], "nice": false, "zero": false}, "axis": null}},
   "layer": [
     {"transform": [{"filter": "datum.g == 'UCb2_2'"}], "mark": {"type": "rule", "color": "#1c7c1c", "strokeWidth": 1.7}, "encoding": {"x2": {"field": "xe"}, "y2": {"field": "ye"}}},
     {"data": {"name": "nodes"}, "mark": {"type": "circle", "color": "black", "size": 55, "opacity": 1}}
   ]},
  {"width": 85, "height": 81, "view": {"stroke": "#9a9a9a", "strokeWidth": 1.5},
   "title": {"text": "3", "color": "#ff0000", "fontSize": 9.5, "anchor": "end", "offset": -12.5, "dx": -3},
   "encoding": {"x": {"field": "x", "type": "quantitative", "scale": {"domain": [-0.057, 1.052], "nice": false, "zero": false}, "axis": null}, "y": {"field": "y", "type": "quantitative", "scale": {"domain": [-0.064, 1.046], "nice": false, "zero": false}, "axis": null}},
   "layer": [
     {"transform": [{"filter": "datum.g == 'UCb2_3'"}], "mark": {"type": "rule", "color": "#1c7c1c", "strokeWidth": 1.7}, "encoding": {"x2": {"field": "xe"}, "y2": {"field": "ye"}}},
     {"data": {"name": "nodes"}, "mark": {"type": "circle", "color": "black", "size": 55, "opacity": 1}}
   ]},
  {"width": 85, "height": 81, "view": {"stroke": "#9a9a9a", "strokeWidth": 1.5},
   "title": {"text": "4", "color": "#ff0000", "fontSize": 9.5, "anchor": "end", "offset": -12.5, "dx": -3},
   "encoding": {"x": {"field": "x", "type": "quantitative", "scale": {"domain": [-0.057, 1.052], "nice": false, "zero": false}, "axis": null}, "y": {"field": "y", "type": "quantitative", "scale": {"domain": [-0.064, 1.046], "nice": false, "zero": false}, "axis": null}},
   "layer": [
     {"transform": [{"filter": "datum.g == 'UCb2_4'"}], "mark": {"type": "rule", "color": "#1c7c1c", "strokeWidth": 1.7}, "encoding": {"x2": {"field": "xe"}, "y2": {"field": "ye"}}},
     {"data": {"name": "nodes"}, "mark": {"type": "circle", "color": "black", "size": 55, "opacity": 1}}
   ]},

  {"width": 455, "height": 0, "data": {"values": []}, "mark": "text"},
  {
    "width": 168, "height": 76, "view": {"stroke": "#9a9a9a", "strokeWidth": 1.5},
    "data": {"name": "bars"}, "transform": [{"filter": "datum.g == 'UC' && datum.dim == 1"}],
    "encoding": {
      "x": {"field": "birth", "type": "quantitative", "scale": {"domain": [0.5, 37.2], "nice": false, "zero": false}, "axis": {"values": [5, 10, 15, 20, 25, 30, 35], "domain": false, "title": "filtration", "titleFont": "Liberation Sans", "titleFontSize": 11, "titleFontStyle": "italic", "titleFontWeight": "bold", "titleColor": "black", "titlePadding": 3}},
      "y": {"field": "idx", "type": "quantitative", "scale": {"domain": [0, 4], "nice": false, "zero": false}, "axis": {"values": [0, 2, 4], "domain": false, "title": "β₁", "titleAngle": 0, "titleAlign": "right", "titleBaseline": "middle", "titleX": -14, "titleY": 38, "titleFont": "Liberation Serif", "titleFontSize": 22, "titleFontStyle": "italic", "titleFontWeight": "normal", "titleColor": "black"}}
    },
    "layer": [
      {"mark": {"type": "rule", "color": "#1e1eff", "strokeWidth": 3.5}, "encoding": {"x2": {"field": "death"}}},
      {"transform": [{"filter": "datum.inf"}], "mark": {"type": "point", "shape": "triangle-right", "filled": true, "color": "black", "opacity": 1, "size": 50, "xOffset": -3.5}, "encoding": {"x": {"field": "death", "type": "quantitative", "axis": {"values": [5, 10, 15, 20, 25, 30, 35], "domain": false, "title": "filtration", "titleFont": "Liberation Sans", "titleFontSize": 11, "titleFontStyle": "italic", "titleFontWeight": "bold", "titleColor": "black", "titlePadding": 3}}}},
      {"mark": {"type": "text", "color": "#ff0000", "font": "DejaVu Sans", "fontWeight": "bold", "fontSize": 9, "align": "left", "baseline": "middle", "dx": 2}, "encoding": {"x": {"field": "death", "type": "quantitative", "axis": {"values": [5, 10, 15, 20, 25, 30, 35], "domain": false, "title": "filtration", "titleFont": "Liberation Sans", "titleFontSize": 11, "titleFontStyle": "italic", "titleFontWeight": "bold", "titleColor": "black", "titlePadding": 3}}, "text": {"field": "idx"}}}
    ]
  },
  {"width": 51, "height": 0, "data": {"values": []}, "mark": "text"},
  {"width": 85, "height": 81, "view": {"stroke": "#9a9a9a", "strokeWidth": 1.5},
   "title": {"text": "1", "color": "#ff0000", "fontSize": 9.5, "anchor": "end", "offset": -12.5, "dx": -3},
   "encoding": {"x": {"field": "x", "type": "quantitative", "scale": {"domain": [-0.057, 1.052], "nice": false, "zero": false}, "axis": null}, "y": {"field": "y", "type": "quantitative", "scale": {"domain": [-0.064, 1.046], "nice": false, "zero": false}, "axis": {"title": "β₁", "domain": false, "ticks": false, "labels": false, "grid": false, "titleAngle": 0, "titleAlign": "right", "titleBaseline": "middle", "titleX": -11, "titleY": 45, "titleFont": "Liberation Serif", "titleFontSize": 20, "titleFontStyle": "italic", "titleFontWeight": "normal", "titleColor": "black"}}},
   "layer": [
     {"transform": [{"filter": "datum.g == 'UCb1_1'"}], "mark": {"type": "rule", "color": "#1e1eff", "strokeWidth": 1.7}, "encoding": {"x2": {"field": "xe"}, "y2": {"field": "ye"}}},
     {"data": {"name": "nodes"}, "mark": {"type": "circle", "color": "black", "size": 55, "opacity": 1}}
   ]},
  {"width": 85, "height": 81, "view": {"stroke": "#9a9a9a", "strokeWidth": 1.5},
   "title": {"text": "2", "color": "#ff0000", "fontSize": 9.5, "anchor": "end", "offset": -12.5, "dx": -3},
   "encoding": {"x": {"field": "x", "type": "quantitative", "scale": {"domain": [-0.057, 1.052], "nice": false, "zero": false}, "axis": null}, "y": {"field": "y", "type": "quantitative", "scale": {"domain": [-0.064, 1.046], "nice": false, "zero": false}, "axis": null}},
   "layer": [
     {"transform": [{"filter": "datum.g == 'UCb1_2'"}], "mark": {"type": "rule", "color": "#1e1eff", "strokeWidth": 1.7}, "encoding": {"x2": {"field": "xe"}, "y2": {"field": "ye"}}},
     {"data": {"name": "nodes"}, "mark": {"type": "circle", "color": "black", "size": 55, "opacity": 1}}
   ]},
  {"width": 85, "height": 81, "view": {"stroke": "#9a9a9a", "strokeWidth": 1.5},
   "title": {"text": "3", "color": "#ff0000", "fontSize": 9.5, "anchor": "end", "offset": -12.5, "dx": -3},
   "encoding": {"x": {"field": "x", "type": "quantitative", "scale": {"domain": [-0.057, 1.052], "nice": false, "zero": false}, "axis": null}, "y": {"field": "y", "type": "quantitative", "scale": {"domain": [-0.064, 1.046], "nice": false, "zero": false}, "axis": null}},
   "layer": [
     {"transform": [{"filter": "datum.g == 'UCb1_3'"}], "mark": {"type": "rule", "color": "#1e1eff", "strokeWidth": 1.7}, "encoding": {"x2": {"field": "xe"}, "y2": {"field": "ye"}}},
     {"data": {"name": "nodes"}, "mark": {"type": "circle", "color": "black", "size": 55, "opacity": 1}}
   ]}
]
}
